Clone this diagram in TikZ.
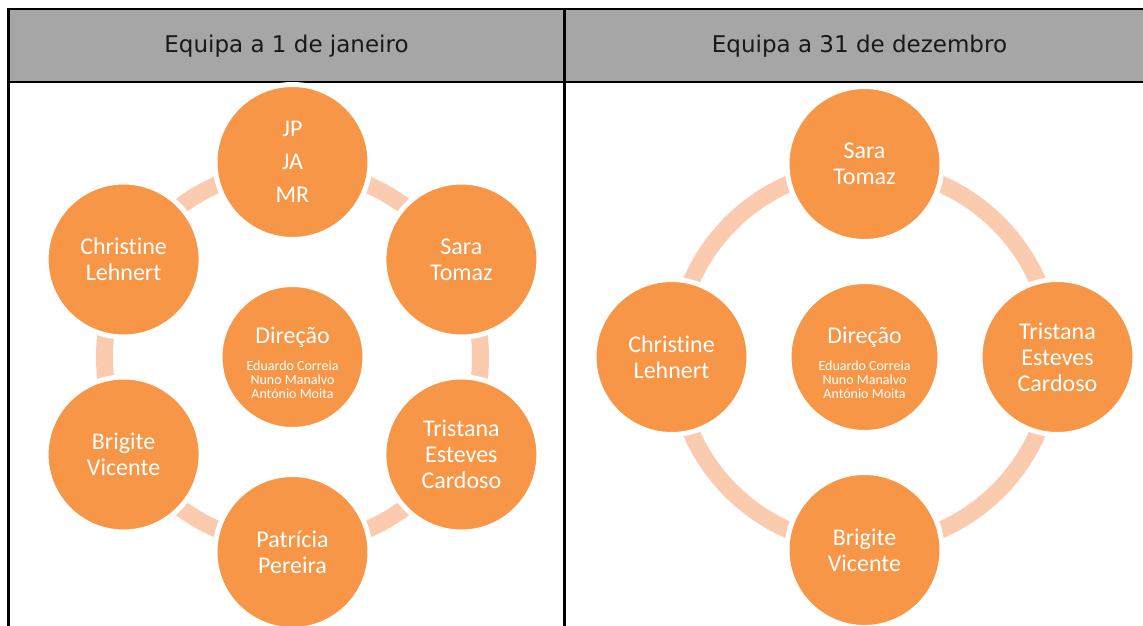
\documentclass[tikz,border=0pt]{standalone}
\usepackage{fontspec}
\usetikzlibrary{calc}
\setmainfont{Carlito}[Ligatures=NoCommon]
\newfontfamily\hdrfont{DejaVu Sans}
\definecolor{orng}{HTML}{F79646}
\definecolor{peach}{HTML}{FBCBB0}
\definecolor{hdrgray}{HTML}{A6A6A6}
\newcommand{\dirnames}{\rule{0pt}{32pt}Direção\\[1pt]{\fontsize{14}{14}\selectfont\begin{tabular}[t]{@{}c@{}}Eduardo Correia\\Nuno Manalvo\\António Moita\end{tabular}}}
\begin{document}
\begin{tikzpicture}[x=1pt,y=-1pt,
  bub/.style={circle, fill=orng, draw=white, line width=5pt, inner sep=0pt,
    minimum size=155pt, text=white, align=center,
    font=\fontsize{24}{26}\selectfont},
  hubL/.style={bub, minimum size=145pt},
  hubR/.style={bub, minimum size=151pt},
  ringline/.style={draw=peach, line width=17pt},
  hdr/.style={font=\hdrfont\fontsize{23}{27}\selectfont, text=black!90, inner sep=0pt},
  rule/.style={draw=black, line width=2.5pt}
]
\useasboundingbox (0,0) rectangle (1143,626);
\clip (0,0) rectangle (1143,626);
% table
\fill[hdrgray] (8.7,9) rectangle (1170,82);
\draw[rule] (1170,9) -- (8.7,9) -- (8.7,660);
\draw[rule] (8.7,82) -- (1170,82);
\draw[rule] (564.7,9) -- (564.7,660);
\node[hdr] (h1) at (286.5,46) {Equipa a 1 de janeiro};
\node[hdr] (h2) at (859.5,46) {Equipa a 31 de dezembro};
% left cycle
\coordinate (L) at (292.5,357);
\draw[ringline] (L) circle[radius=188];
\node[hubL] (d1) at (L) {\dirnames};
\node[bub] (a1) at ($(L)+(0,-195)$) {JP\\[7pt]JA\\[7pt]MR};
\node[bub] (a2) at ($(L)+(168.9,-97.5)$) {Sara\\Tomaz};
\node[bub] (a3) at ($(L)+(168.9,97.5)$) {Tristana\\Esteves\\Cardoso};
\node[bub] (a4) at ($(L)+(0,195)$) {Patrícia\\Pereira};
\node[bub] (a5) at ($(L)+(-168.9,97.5)$) {Brigite\\Vicente};
\node[bub] (a6) at ($(L)+(-168.9,-97.5)$) {Christine\\Lehnert};
% right cycle
\coordinate (R) at (864.5,357);
\draw[ringline] (R) circle[radius=189];
\node[hubR] (d2) at (R) {\dirnames};
\node[bub] (b1) at ($(R)+(0,-193)$) {Sara\\Tomaz};
\node[bub] (b2) at ($(R)+(193,0)$) {Tristana\\Esteves\\Cardoso};
\node[bub] (b3) at ($(R)+(0,193)$) {Brigite\\Vicente};
\node[bub] (b4) at ($(R)+(-193,0)$) {Christine\\Lehnert};
\end{tikzpicture}
\end{document}
